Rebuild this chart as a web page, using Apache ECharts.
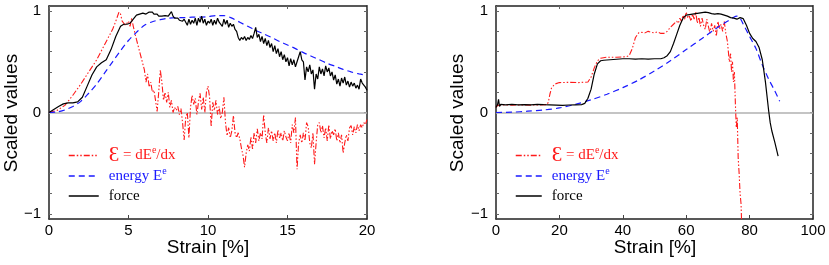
<!DOCTYPE html>
<html><head><meta charset="utf-8">
<script src="https://cdn.jsdelivr.net/npm/echarts@6/dist/echarts.min.js"></script>
<style>html,body{margin:0;padding:0;background:#fff}#c{width:829px;height:265px}</style>
</head><body><div id="c"></div>
<script>
// ---- data (strain %, scaled value) ----
const forceLeft = [[0,0],[0.3,0.03],[0.6,0.06],[0.9,0.085],[1.2,0.095],[1.5,0.095],[1.8,0.105],[2.1,0.15],[2.4,0.26],[2.7,0.37],[3.0,0.45],[3.3,0.49],[3.6,0.52],[3.9,0.62],[4.2,0.75],[4.5,0.85],[4.7,0.87],[4.9,0.87],[5.1,0.88],[5.3,0.92],[5.5,0.96],[5.7,0.97],[5.9,0.98],[6.0,0.99],[6.1,0.97],[6.2,0.98],[6.3,0.99],[6.4,0.98],[6.5,0.99],[6.6,0.97],[6.7,0.96],[6.8,0.97],[6.9,0.95],[7.0,0.96],[7.1,0.95],[7.2,0.96],[7.3,0.955],[7.4,0.96],[7.5,0.95],[7.6,0.96],[7.7,0.995],[7.8,0.95],[7.9,0.93],[8.0,0.92],[8.1,0.93],[8.2,0.91],[8.3,0.92],[8.4,0.9],[8.5,0.92],[8.6,0.89],[8.7,0.86],[8.8,0.92],[8.9,0.87],[9.0,0.91],[9.1,0.88],[9.2,0.93],[9.3,0.86],[9.4,0.93],[9.5,0.89],[9.6,0.95],[9.7,0.88],[9.8,0.92],[9.9,0.86],[10.0,0.9],[10.1,0.88],[10.2,0.92],[10.3,0.86],[10.4,0.91],[10.5,0.87],[10.6,0.93],[10.7,0.89],[10.8,0.9],[10.9,0.85],[11.0,0.92],[11.1,0.87],[11.2,0.91],[11.3,0.84],[11.4,0.88],[11.5,0.85],[11.6,0.87],[11.7,0.82],[11.8,0.8],[11.9,0.74],[12.0,0.71],[12.1,0.74],[12.2,0.72],[12.3,0.75],[12.4,0.71],[12.5,0.74],[12.6,0.72],[12.7,0.76],[12.8,0.73],[12.9,0.78],[13.0,0.84],[13.1,0.74],[13.2,0.77],[13.3,0.7],[13.4,0.75],[13.5,0.68],[13.6,0.73],[13.7,0.66],[13.8,0.71],[13.9,0.64],[14.0,0.68],[14.1,0.6],[14.2,0.66],[14.3,0.58],[14.4,0.63],[14.5,0.55],[14.6,0.6],[14.7,0.52],[14.8,0.57],[14.9,0.5],[15.0,0.54],[15.1,0.46],[15.2,0.53],[15.3,0.47],[15.4,0.52],[15.5,0.45],[15.6,0.5],[15.7,0.55],[15.8,0.6],[15.9,0.52],[16.0,0.5],[16.1,0.32],[16.2,0.45],[16.3,0.4],[16.4,0.47],[16.5,0.38],[16.6,0.42],[16.7,0.23],[16.8,0.38],[16.9,0.33],[17.0,0.45],[17.1,0.38],[17.2,0.43],[17.3,0.36],[17.4,0.46],[17.5,0.4],[17.6,0.44],[17.7,0.36],[17.8,0.4],[17.9,0.32],[18.0,0.37],[18.1,0.28],[18.2,0.33],[18.3,0.26],[18.4,0.34],[18.5,0.29],[18.6,0.35],[18.7,0.27],[18.8,0.31],[18.9,0.25],[19.0,0.3],[19.1,0.26],[19.2,0.29],[19.3,0.24],[19.4,0.27],[19.5,0.23],[19.6,0.33],[19.7,0.29],[19.8,0.3],[19.9,0.25],[20.0,0.22]];

const energyLeft = [[0,0],[0.5,0.005],[1,0.025],[1.5,0.06],[2,0.11],[2.5,0.19],[3,0.28],[3.5,0.39],[4,0.5],[4.5,0.61],[5,0.71],[5.5,0.79],[6,0.86],[6.5,0.895],[7,0.915],[7.5,0.93],[8,0.935],[8.5,0.935],[9,0.94],[9.5,0.94],[10,0.945],[10.5,0.955],[11,0.955],[11.5,0.93],[12,0.89],[12.5,0.85],[13,0.81],[13.5,0.775],[14,0.74],[14.5,0.7],[15,0.665],[15.5,0.63],[16,0.59],[16.5,0.555],[17,0.52],[17.5,0.485],[18,0.455],[18.5,0.425],[19,0.4],[19.5,0.38],[20,0.365]];

const derivLeft = [[0,0],[0.5,0.02],[1,0.07],[1.5,0.17],[2,0.28],[2.5,0.4],[3,0.52],[3.5,0.67],[4,0.82],[4.2,0.9],[4.4,0.99],[4.5,0.97],[4.6,0.9],[4.8,0.86],[5.0,0.9],[5.1,0.85],[5.2,0.93],[5.3,0.85],[5.5,0.72],[5.7,0.6],[5.9,0.48],[6.0,0.42],[6.1,0.3],[6.2,0.38],[6.3,0.25],[6.4,0.3],[6.5,0.2],[6.6,0.22],[6.7,0.12],[6.8,0.01],[6.9,0.2],[7.0,0.42],[7.1,0.3],[7.2,0.12],[7.3,0.2],[7.4,0.1],[7.5,0.2],[7.6,0.05],[7.7,0.12],[7.8,0.0],[7.9,0.05],[8.0,0.02],[8.1,0.06],[8.2,-0.02],[8.3,0.04],[8.4,-0.1],[8.5,-0.27],[8.6,-0.05],[8.7,0.0],[8.8,-0.25],[8.9,0.05],[9.0,0.17],[9.1,0.08],[9.2,0.14],[9.3,-0.02],[9.4,0.1],[9.5,0.19],[9.6,0.03],[9.7,0.15],[9.8,0.0],[9.9,0.2],[10.0,0.26],[10.1,0.15],[10.2,-0.14],[10.3,0.1],[10.4,0.02],[10.5,0.12],[10.6,-0.02],[10.7,0.06],[10.8,-0.06],[10.9,0.0],[11.0,0.15],[11.1,-0.1],[11.2,-0.23],[11.3,-0.15],[11.4,-0.25],[11.5,-0.18],[11.6,-0.03],[11.7,-0.2],[11.8,-0.25],[11.9,-0.2],[12.0,-0.26],[12.1,-0.35],[12.2,-0.42],[12.3,-0.54],[12.4,-0.4],[12.5,-0.32],[12.6,-0.38],[12.7,-0.24],[12.8,-0.36],[12.9,-0.2],[13.0,-0.3],[13.1,-0.16],[13.2,-0.28],[13.3,-0.2],[13.4,-0.26],[13.5,-0.02],[13.6,-0.2],[13.7,-0.3],[13.8,-0.15],[13.9,-0.26],[14.0,-0.18],[14.1,-0.28],[14.2,-0.2],[14.3,-0.3],[14.4,-0.17],[14.5,-0.25],[14.6,-0.2],[14.7,-0.28],[14.8,-0.18],[14.9,-0.24],[15.0,-0.28],[15.1,-0.2],[15.2,-0.3],[15.3,-0.12],[15.4,-0.2],[15.5,-0.05],[15.6,-0.56],[15.7,-0.3],[15.8,-0.22],[15.9,-0.3],[16.0,-0.2],[16.1,-0.28],[16.2,-0.1],[16.3,-0.14],[16.4,-0.3],[16.5,-0.35],[16.6,-0.2],[16.7,-0.51],[16.8,-0.3],[16.9,-0.12],[17.0,-0.1],[17.1,-0.2],[17.2,-0.13],[17.3,-0.25],[17.4,-0.15],[17.5,-0.28],[17.6,-0.12],[17.7,-0.26],[17.8,-0.18],[17.9,-0.22],[18.0,-0.16],[18.1,-0.28],[18.2,-0.2],[18.3,-0.3],[18.4,-0.22],[18.5,-0.4],[18.6,-0.3],[18.7,-0.22],[18.8,-0.28],[18.9,-0.15],[19.0,-0.13],[19.1,-0.22],[19.2,-0.14],[19.3,-0.2],[19.4,-0.12],[19.5,-0.18],[19.6,-0.12],[19.7,-0.15],[19.8,-0.1],[19.9,-0.12],[20.0,-0.07]];

const forceRight = [[0,0.05],[0.5,0.08],[0.8,0.13],[1.1,0.06],[1.5,0.08],[3,0.075],[5,0.08],[7,0.075],[9,0.078],[11,0.076],[13,0.08],[15,0.077],[17,0.075],[19,0.073],[21,0.07],[23,0.074],[25,0.076],[27,0.078],[28,0.09],[29,0.14],[30,0.23],[31,0.38],[32,0.48],[33,0.51],[34,0.515],[36,0.52],[38,0.525],[40,0.53],[42,0.53],[44,0.527],[46,0.53],[48,0.527],[50,0.53],[52,0.53],[53,0.54],[54,0.56],[55,0.6],[56,0.68],[57,0.77],[58,0.86],[59,0.93],[60,0.96],[61,0.965],[62,0.97],[63,0.975],[64,0.98],[65,0.985],[66,0.99],[67,0.985],[68,0.975],[69,0.97],[70,0.975],[71,0.97],[72,0.96],[73,0.95],[74,0.935],[75,0.93],[76,0.92],[77,0.935],[78,0.925],[79,0.86],[80,0.78],[81,0.73],[82,0.7],[83,0.64],[84,0.52],[85,0.3],[86,0.02],[86.5,-0.1],[87,-0.18],[88,-0.3],[89,-0.43]];

const energyRight = [[0,0],[5,0.003],[10,0.013],[15,0.025],[20,0.045],[25,0.08],[30,0.125],[35,0.18],[40,0.245],[45,0.32],[50,0.41],[55,0.51],[60,0.62],[65,0.73],[70,0.84],[73,0.9],[75,0.94],[76,0.95],[77,0.93],[78,0.87],[79,0.81],[80,0.75],[82,0.63],[84,0.47],[86,0.33],[88,0.21],[89.5,0.11]];

const derivRight = [[0,0.05],[0.5,0.07],[2,0.075],[5,0.073],[8,0.075],[11,0.073],[14,0.075],[16,0.078],[16.5,0.1],[17,0.18],[17.5,0.24],[18.5,0.28],[20,0.295],[23,0.297],[26,0.295],[29,0.3],[30,0.35],[31,0.44],[32,0.51],[33,0.535],[35,0.545],[38,0.545],[41,0.55],[42,0.56],[43,0.63],[44,0.74],[45,0.785],[46,0.79],[47,0.785],[48,0.8],[49,0.79],[50,0.785],[51,0.795],[52,0.78],[53,0.78],[54,0.8],[55,0.84],[56,0.87],[57,0.9],[57.5,0.88],[58,0.93],[58.5,0.9],[59,0.96],[59.5,0.92],[60,0.99],[60.5,0.93],[61,0.95],[61.5,0.9],[62,0.97],[62.5,0.92],[63,0.99],[63.5,0.88],[64,0.94],[64.5,0.85],[65,0.93],[65.5,0.86],[66,0.82],[66.5,0.92],[67,0.85],[67.5,0.78],[68,0.88],[68.5,0.8],[69,0.86],[69.5,0.75],[70,0.9],[70.5,0.82],[71,0.87],[71.5,0.8],[72,0.9],[72.5,0.78],[73,0.7],[73.3,0.6],[73.6,0.5],[74,0.58],[74.3,0.4],[74.6,0.5],[74.9,0.3],[75.2,0.4],[75.5,0.1],[75.8,-0.15],[76.1,-0.05],[76.4,-0.45],[76.7,-0.6],[77,-0.8],[77.3,-0.9],[77.6,-1.2]];

// ---- ticks & titles ----
const yTickLabels = [-1, 0, 1];
const yTickMarks = [-1, -0.8, -0.6, -0.4, -0.2, 0, 0.2, 0.4, 0.6, 0.8, 1];
const xTicksLeft = [0, 5, 10, 15, 20];
const xTicksRight = [0, 20, 40, 60, 80, 100];
const xTitle = 'Strain [%]';
const yTitle = 'Scaled values';

const names = { eps: 'eps', energy: 'energy', force: 'force' };
const RED = '#ff1a1a', BLUE = '#1a1aff', BLACK = '#000';
const sans = '"Liberation Sans", Arial, Helvetica, sans-serif';
const serif = '"Liberation Serif", "DejaVu Serif", "Times New Roman", serif';
const fmtY = v => v < 0 ? '\u2212' + Math.abs(v) : String(v);

function xAxes(gridIndex, ticks) {
  const min = ticks[0], max = ticks[ticks.length - 1], interval = ticks[1] - ticks[0];
  const line = { show: true, onZero: false, lineStyle: { color: '#222', width: 1.5 } };
  return [
    { type: 'value', gridIndex, position: 'bottom', min, max, interval,
      axisLine: line, axisTick: { inside: true, length: 4, lineStyle: { color: '#444' } },
      axisLabel: { color: '#000', fontSize: 15, fontFamily: sans, margin: 4 },
      splitLine: { show: false } },
    { type: 'value', gridIndex, position: 'top', min, max, interval,
      axisLine: line, axisTick: { inside: true, length: 3, lineStyle: { color: '#666' } },
      axisLabel: { show: false }, splitLine: { show: false } }
  ];
}
function yAxes(gridIndex) {
  const line = { show: true, onZero: false, lineStyle: { color: '#222', width: 1.5 } };
  return [
    { type: 'value', gridIndex, position: 'left', min: -1.05, max: 1.05,
      axisLine: line,
      axisTick: { inside: true, length: 3, customValues: yTickMarks, lineStyle: { color: '#666' } },
      axisLabel: { customValues: yTickLabels, formatter: fmtY, color: '#000', fontSize: 15, fontFamily: sans, margin: 8 },
      splitLine: { show: false } },
    { type: 'value', gridIndex, position: 'right', min: -1.05, max: 1.05,
      axisLine: line,
      axisTick: { inside: true, length: 3, customValues: yTickMarks, lineStyle: { color: '#666' } },
      axisLabel: { show: false }, splitLine: { show: false } }
  ];
}
function seriesFor(xi, yi, eps, en, fo) {
  return [
    { name: names.eps, type: 'line', xAxisIndex: xi, yAxisIndex: yi, data: eps, symbol: 'none',
      lineStyle: { color: RED, width: 1.1, type: [6, 2, 1.5, 2, 1.5, 2] }, itemStyle: { color: RED }, z: 3 },
    { name: names.energy, type: 'line', xAxisIndex: xi, yAxisIndex: yi, data: en, symbol: 'none', smooth: 0.3,
      lineStyle: { color: BLUE, width: 1.2, type: [6, 4] }, itemStyle: { color: BLUE }, z: 4 },
    { name: names.force, type: 'line', xAxisIndex: xi, yAxisIndex: yi, data: fo, symbol: 'none',
      lineStyle: { color: BLACK, width: 1.2 }, itemStyle: { color: BLACK }, z: 5,
      markLine: { silent: true, symbol: 'none', label: { show: false }, z: 1,
        lineStyle: { color: '#b0b0b0', width: 1.5, type: 'solid' }, data: [{ yAxis: 0 }] } }
  ];
}
function legendAt(left, itemWidth) {
  return {
    orient: 'vertical', left, top: 140, itemWidth, itemHeight: 14, itemGap: 0,
    selectedMode: false,
    itemStyle: { opacity: 0 },
    lineStyle: { width: 1.5 },
    textStyle: { fontFamily: serif, fontSize: 15, lineHeight: 20, padding: [0, 0, 0, 5],
      rich: { big: { fontSize: 21, fontFamily: serif, lineHeight: 20 },
              sup: { fontSize: 10, fontFamily: serif, verticalAlign: 'top', lineHeight: 14 } } },
    formatter: n => n === 'eps' ? '{big|\u0190} = dE{sup|e}/dx' : n === 'energy' ? 'energy E{sup|e}' : 'force',
    data: [
      { name: names.eps, textStyle: { color: RED } },
      { name: names.energy, textStyle: { color: BLUE } },
      { name: names.force, textStyle: { color: '#000' } }
    ]
  };
}
function titleText(text, x, y, rotated) {
  return { type: 'text', x, y, rotation: rotated ? Math.PI / 2 : 0, silent: true,
    style: { text, fill: '#000', font: '19px ' + sans, align: 'center', verticalAlign: 'middle' } };
}

const chart = echarts.init(document.getElementById('c'), null, { renderer: 'canvas' });
chart.setOption({
  animation: false,
  backgroundColor: '#fff',
  grid: [
    { left: 49, top: 6, width: 318, height: 213, containLabel: false, outerBoundsMode: 'none' },
    { left: 496, top: 6, width: 317, height: 213, containLabel: false, outerBoundsMode: 'none' }
  ],
  xAxis: [...xAxes(0, xTicksLeft), ...xAxes(1, xTicksRight)],
  yAxis: [...yAxes(0), ...yAxes(1)],
  legend: [legendAt(63, 30), legendAt(510, 26)],
  graphic: [
    titleText(xTitle, 208, 248, false),
    titleText(xTitle, 655, 248, false),
    titleText(yTitle, 12, 113, true),
    titleText(yTitle, 458, 113, true)
  ],
  series: [...seriesFor(0, 0, derivLeft, energyLeft, forceLeft), ...seriesFor(2, 2, derivRight, energyRight, forceRight)]
});
</script></body></html>
